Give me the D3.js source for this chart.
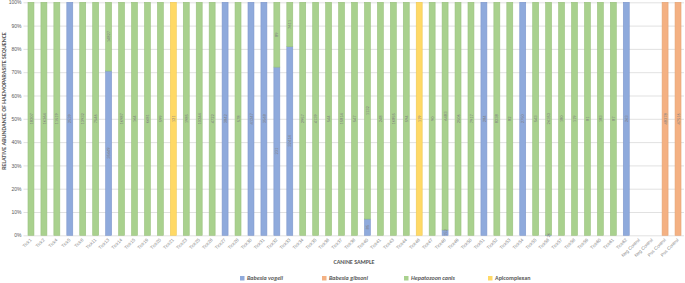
<!DOCTYPE html>
<html>
<head>
<meta charset="utf-8">
<script src="https://cdn.jsdelivr.net/npm/d3@7"></script>
<style>
body { margin: 0; background: #fff; }
svg { display: block; font-family: Calibri, "Liberation Sans", Arial, sans-serif; }
</style>
</head>
<body>
<svg id="chart"></svg>
<script>
var w = 685;
var h = 283;

// sample names on the x axis
var samples = ["Tick1","Tick2","Tick4","Tick5","Tick8","Tick11","Tick13","Tick14","Tick15","Tick19",
  "Tick20","Tick21","Tick23","Tick25","Tick26","Tick27","Tick28","Tick30","Tick31","Tick32",
  "Tick33","Tick34","Tick35","Tick36","Tick37","Tick38","Tick40","Tick41","Tick43","Tick44",
  "Tick46","Tick47","Tick48","Tick49","Tick50","Tick51","Tick52","Tick53","Tick54","Tick55",
  "Tick56","Tick57","Tick58","Tick59","Tick60","Tick61","Tick62",
  "Neg Control","Neg Control","Pos Control","Pos Control"];

// read counts per sample
var vogeli  = [0,0,0,2539,0,0,35449,0,0,0, 0,0,0,0,0,3842,0,41247,3568,231,
  32414,0,0,0,0,0,85,0,0,0, 0,0,152,0,0,284,0,0,2750,0, 26,0,0,0,0,0,263, 0,0,0,0];
var gibsoni = [0,0,0,0,0,0,0,0,0,0, 0,0,0,0,0,0,0,0,0,0,
  0,0,0,0,0,0,0,0,0,0, 0,0,0,0,0,0,0,0,0,0, 0,0,0,0,0,0,0, 0,0,48378,47516];
var hepato  = [18207,16364,11519,0,13932,7546,14827,16987,164,6681, 599,0,1985,10244,4722,0,578,0,0,89,
  7611,2957,4139,544,15814,547,1132,248,16855,594, 0,90,6483,2506,7917,0,8238,82,0,543,
  26353,180,119,81,183,87,0, 0,0,0,0];
var apicom  = [0,0,0,0,0,0,0,0,0,0, 0,121,0,0,0,0,0,0,0,0,
  0,0,0,0,0,0,0,0,0,0, 119,0,0,0,0,0,0,0,0,0, 0,0,0,0,0,0,0, 0,0,0,0];

var series_names = ["Babesia vogeli","Babesia gibsoni","Hepatozoon canis","Apicomplexan"];
var series_colors = ["#8FAADC","#F4B183","#A9D18E","#FFD966"];
var series_strokes = ["#7E97CC","#E4A273","#99C17E","#EFC956"];
var y_ticks = [0,0.1,0.2,0.3,0.4,0.5,0.6,0.7,0.8,0.9,1];

var rows = samples.map(function(s, i){
  return {idx: i, name: s, s0: vogeli[i], s1: gibsoni[i], s2: hepato[i], s3: apicom[i]};
});

var svg = d3.select("#chart").attr("width", w).attr("height", h);

var x = d3.scaleBand()
  .domain(rows.map(function(d){ return d.idx; }))
  .range([24.5, 684.5])
  .paddingInner(0.54)
  .paddingOuter(0.27);

var y = d3.scaleLinear().domain([0, 1]).range([235.3, 2.3]);

// gridlines + y labels
var yAxis = d3.axisLeft(y).tickValues(y_ticks).tickSize(-(684 - 23.5)).tickFormat(d3.format(".0%"));
var gy = svg.append("g").attr("transform", "translate(23.5,0)").call(yAxis);
gy.select(".domain").remove();
gy.selectAll(".tick line").attr("stroke", "#D9D9D9").attr("stroke-width", 0.8);
gy.selectAll(".tick text").attr("x", -2).attr("fill", "#595959").style("font-size", "5px");

var stack = d3.stack().keys(["s0","s1","s2","s3"]).offset(d3.stackOffsetExpand);
var stacked = stack(rows);

var layer = svg.selectAll(".layer").data(stacked).enter().append("g")
  .attr("class", "layer")
  .attr("fill", function(d, i){ return series_colors[i]; })
  .attr("stroke", function(d, i){ return series_strokes[i]; });

layer.selectAll("rect")
  .data(function(d){ return d.filter(function(p){ return !isNaN(p[1]) && p[1] - p[0] > 0; }); })
  .enter().append("rect")
  .attr("x", function(p){ return x(p.data.idx); })
  .attr("y", function(p){ return y(p[1]); })
  .attr("width", x.bandwidth())
  .attr("height", function(p){ return y(p[0]) - y(p[1]); })
  .attr("stroke-width", 0.6);

// data labels (raw counts) in the middle of each segment
stacked.forEach(function(s){
  var key = s.key;
  s.forEach(function(p){
    if (isNaN(p[1]) || p[1] - p[0] <= 0) return;
    var cx = x(p.data.idx) + x.bandwidth() / 2;
    var cy = y((p[0] + p[1]) / 2);
    svg.append("text")
      .attr("transform", "translate(" + (cx + 1.6) + "," + cy + ") rotate(-90)")
      .attr("text-anchor", "middle")
      .attr("fill", "#7F7F7F")
      .style("font-size", "4.5px")
      .text(p.data[key]);
  });
});

// x labels
var xAxis = d3.axisBottom(x).tickSize(0).tickFormat(function(d){ return samples[d]; });
var gx = svg.append("g").attr("transform", "translate(0,235.3)").call(xAxis);
gx.select(".domain").remove();
gx.selectAll(".tick text")
  .attr("text-anchor", "end")
  .attr("fill", "#7F7F7F")
  .style("font-size", "4.5px")
  .attr("dy", 0)
  .attr("y", 0)
  .attr("transform", "translate(1,5) rotate(-45)");

// axis titles
svg.append("text")
  .attr("x", 354).attr("y", 264)
  .attr("text-anchor", "middle")
  .attr("fill", "#595959")
  .style("font-size", "6px")
  .style("font-weight", "bold")
  .text("CANINE SAMPLE");

svg.append("text")
  .attr("transform", "translate(5.5,101) rotate(-90)")
  .attr("text-anchor", "middle")
  .attr("fill", "#595959")
  .style("font-size", "6px")
  .style("font-weight", "bold")
  .text("RELATIVE ABUNDANCE OF HAEMOPARASITE SEQUENCE");

// legend
var legend_x = [240, 322, 404, 488];
var lg = svg.selectAll(".legend").data(series_names).enter().append("g")
  .attr("class", "legend")
  .attr("transform", function(d, i){ return "translate(" + legend_x[i] + ",276)"; });
lg.append("rect").attr("width", 4.5).attr("height", 4.5)
  .attr("fill", function(d, i){ return series_colors[i]; });
lg.append("text").attr("x", 7).attr("y", 4.3)
  .attr("fill", "#595959")
  .style("font-size", "6px")
  .style("font-weight", "bold")
  .style("font-style", function(d, i){ return i < 3 ? "italic" : "normal"; })
  .text(function(d){ return d; });
</script>
</body>
</html>
